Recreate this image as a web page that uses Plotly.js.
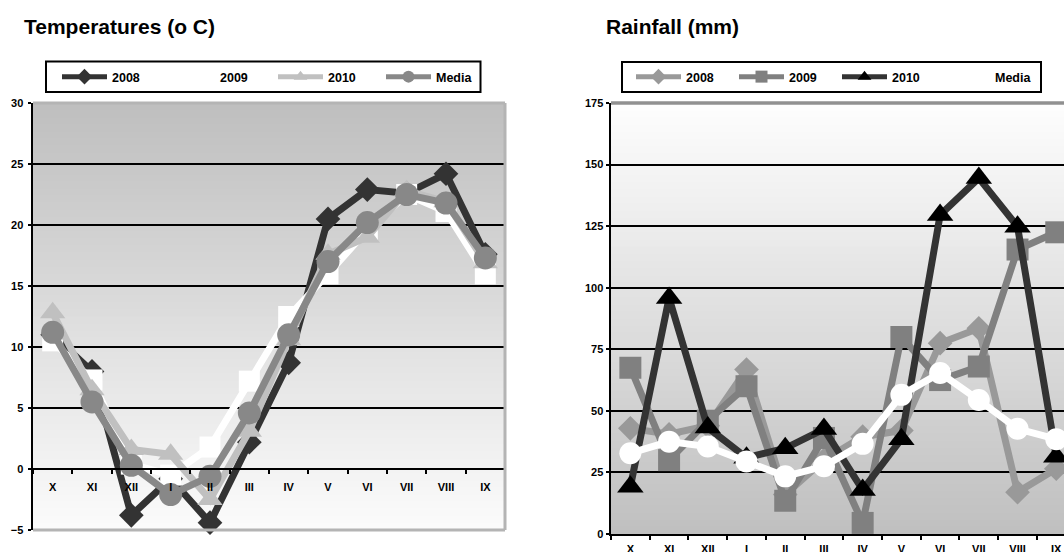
<!DOCTYPE html>
<html><head><meta charset="utf-8">
<script src="https://cdn.plot.ly/plotly-3.0.1.min.js"></script>
<style>html,body{margin:0;padding:0;background:#fff;} #chart{width:1064px;height:552px;}</style>
</head><body><div id="chart"></div>
<script>
// ---------- data ----------
const months = ['X','XI','XII','I','II','III','IV','V','VI','VII','VIII','IX'];
const seriesNames = ['2008','2009','2010','Media'];

const temp2008  = [11.0, 8.0, -3.8, -0.8, -4.4, 2.2, 8.7, 20.5, 22.9, 22.6, 24.2, 17.6];
const temp2009  = [10.5, 7.3, 0.4, -0.5, 1.8, 7.2, 12.5, 16.0, 19.6, 22.5, 21.1, 16.0];
const temp2010  = [12.8, 6.5, 1.6, 1.2, -2.5, 3.1, 10.6, 17.6, 19.0, 22.8, 21.9, 16.9];
const tempMedia = [11.2, 5.5, 0.3, -2.1, -0.6, 4.6, 11.0, 17.0, 20.2, 22.5, 21.8, 17.3];

const rain2008  = [42.9, 40.5, 44.0, 66.8, 16.0, 30.0, 39.5, 42.0, 77.5, 83.5, 17.0, 26.5];
const rain2009  = [67.5, 30.0, 46.0, 60.0, 13.5, 39.0, 4.5, 80.0, 62.5, 68.0, 115.5, 122.5];
const rain2010  = [19.2, 95.8, 43.2, 31.0, 34.8, 42.6, 17.9, 38.5, 129.5, 144.5, 124.8, 31.4];
const rainMedia = [32.8, 37.5, 35.5, 29.4, 23.4, 27.5, 36.6, 56.5, 65.4, 54.4, 42.7, 38.5];

const tempTitle = 'Temperatures (o C)';
const rainTitle = 'Rainfall (mm)';

// ---------- layout helpers ----------
const W = 1064, H = 552;
const px = x => x / W;
const py = y => 1 - y / H;
const FONT = 'Arial, "Liberation Sans", sans-serif';

const leftDomX = [px(33), px(505)];
const leftDomY = [py(530), py(103)];
const rightDomX = [px(611), 1];
const rightDomY = [py(534), py(103)];
const tRange = [-5, 30];
const rRange = [0, 175];

function mk(name, x, y, color, markerColor, symbol, size, xa, ya, legend) {
  return {
    type: 'scatter', mode: 'lines+markers', name: name, x: x, y: y,
    xaxis: xa, yaxis: ya, legend: legend, cliponaxis: false,
    line: {color: color, width: 7},
    marker: {color: markerColor, symbol: symbol, size: size, line: {width: 0}},
    hoverinfo: 'skip'
  };
}

const data = [
  mk(seriesNames[0], months, temp2008, '#333333', '#333333', 'diamond', 19, 'x', 'y', 'legend'),
  mk(seriesNames[1], months, temp2009, '#ffffff', '#ffffff', 'square', 21, 'x', 'y', 'legend'),
  mk(seriesNames[2], months, temp2010, '#c0c0c0', '#c0c0c0', 'triangle-up', 22, 'x', 'y', 'legend'),
  mk(seriesNames[3], months, tempMedia, '#888888', '#888888', 'circle', 23, 'x', 'y', 'legend'),
  mk(seriesNames[0], months, rain2008, '#999999', '#999999', 'diamond', 19, 'x2', 'y2', 'legend2'),
  mk(seriesNames[1], months, rain2009, '#808080', '#808080', 'square', 22, 'x2', 'y2', 'legend2'),
  mk(seriesNames[2], months, rain2010, '#333333', '#000000', 'triangle-up', 23, 'x2', 'y2', 'legend2'),
  mk(seriesNames[3], months, rainMedia, '#ffffff', '#ffffff', 'circle', 22, 'x2', 'y2', 'legend2')
];

// gradient backgrounds via bands
function mix(a, b, t) { return Math.round(a + (b - a) * t); }
const shapes = [];
const N = 60;
function bands(xref, yref, bottomGray, topGray) {
  for (let i = 0; i < N; i++) {
    const t = (i + 0.5) / N;
    const g = mix(bottomGray, topGray, t);
    shapes.push({type: 'rect', xref: xref, yref: yref, x0: 0, x1: 1,
      y0: i / N, y1: Math.min(1, (i + 1) / N + 0.003),
      fillcolor: 'rgb(' + g + ',' + g + ',' + g + ')', line: {width: 0}, layer: 'below'});
  }
}
bands('x domain', 'y domain', 252, 190);
bands('x2 domain', 'y2 domain', 191, 254);

function dline(xref, yref, x0, y0, x1, y1, color, w) {
  shapes.push({type: 'line', xref: xref, yref: yref, x0: x0, y0: y0, x1: x1, y1: y1,
    line: {color: color, width: w}, layer: 'above'});
}
// plot borders
dline('x domain', 'y domain', 0, 1, 1, 1, '#b4b4b4', 3);
dline('x domain', 'y domain', 1, 0, 1, 1, '#b4b4b4', 3);
dline('x domain', 'y domain', 0, 0, 1, 0, '#b4b4b4', 3);
dline('x2 domain', 'y2 domain', 0, 1, 1, 1, '#909090', 3.5);

// legend boxes
shapes.push({type: 'rect', xref: 'paper', yref: 'paper', x0: px(46), x1: px(480.5), y0: py(92), y1: py(61.5),
  line: {color: '#000', width: 2}, fillcolor: 'rgba(0,0,0,0)', layer: 'above'});
shapes.push({type: 'rect', xref: 'paper', yref: 'paper', x0: px(622), x1: px(1041), y0: py(92), y1: py(62),
  line: {color: '#000', width: 2}, fillcolor: 'rgba(0,0,0,0)', layer: 'above'});

const tickFont = {family: FONT, size: 11, color: '#000', weight: 'bold'};
const legFont = {family: FONT, size: 12.5, color: '#000', weight: 'bold'};
const titleFont = {family: FONT, size: 21, color: '#000', weight: 'bold'};

const xBase = {type: 'category', showline: true, linecolor: '#000', linewidth: 2,
  ticks: 'outside', tickson: 'boundaries', ticklen: 4, tickwidth: 2, tickcolor: '#000',
  showgrid: false, zeroline: false, tickfont: tickFont, fixedrange: true};
const yBase = {showline: true, linecolor: '#000', linewidth: 2.5, ticks: 'outside', ticklen: 3,
  tickwidth: 2, tickcolor: '#000', showgrid: true, gridcolor: '#000', gridwidth: 2,
  zeroline: false, tickfont: tickFont, fixedrange: true};

const layout = {
  width: W, height: H,
  margin: {l: 0, r: 0, t: 0, b: 0, pad: 0},
  paper_bgcolor: '#ffffff', plot_bgcolor: 'rgba(0,0,0,0)',
  font: {family: FONT, color: '#000'},
  showlegend: true,
  xaxis: Object.assign({}, xBase, {domain: leftDomX, anchor: 'free',
    position: leftDomY[0] + (leftDomY[1] - leftDomY[0]) * (0 - tRange[0]) / (tRange[1] - tRange[0]),
    range: [-0.5, 11.5], ticklabelstandoff: 8}),
  yaxis: Object.assign({}, yBase, {domain: leftDomY, anchor: 'x', range: tRange, dtick: 5, tick0: 0, ticklabelstandoff: 2}),
  xaxis2: Object.assign({}, xBase, {domain: rightDomX, anchor: 'y2', range: [-0.5, 11.2], ticklabelstandoff: 4}),
  yaxis2: Object.assign({}, yBase, {domain: rightDomY, anchor: 'x2', range: rRange, dtick: 25, tick0: 0, ticklabelstandoff: 0}),
  legend: {x: px(57), xanchor: 'left', y: py(77), yanchor: 'middle', orientation: 'h',
    bgcolor: 'rgba(0,0,0,0)', borderwidth: 0, font: legFont, itemwidth: 45,
    entrywidth: 48, entrywidthmode: 'pixels', itemsizing: 'constant', traceorder: 'normal',
    itemclick: false, itemdoubleclick: false},
  legend2: {x: px(631), xanchor: 'left', y: py(77), yanchor: 'middle', orientation: 'h',
    bgcolor: 'rgba(0,0,0,0)', borderwidth: 0, font: legFont, itemwidth: 45,
    entrywidth: 43, entrywidthmode: 'pixels', itemsizing: 'constant', traceorder: 'normal',
    itemclick: false, itemdoubleclick: false},
  shapes: shapes,
  annotations: [
    {text: tempTitle, xref: 'paper', yref: 'paper', x: px(22), y: py(27), xanchor: 'left', yanchor: 'middle',
      showarrow: false, font: titleFont},
    {text: rainTitle, xref: 'paper', yref: 'paper', x: px(604), y: py(27), xanchor: 'left', yanchor: 'middle',
      showarrow: false, font: titleFont}
  ]
};

Plotly.newPlot('chart', data, layout, {staticPlot: true, displayModeBar: false});
</script>
</body></html>
